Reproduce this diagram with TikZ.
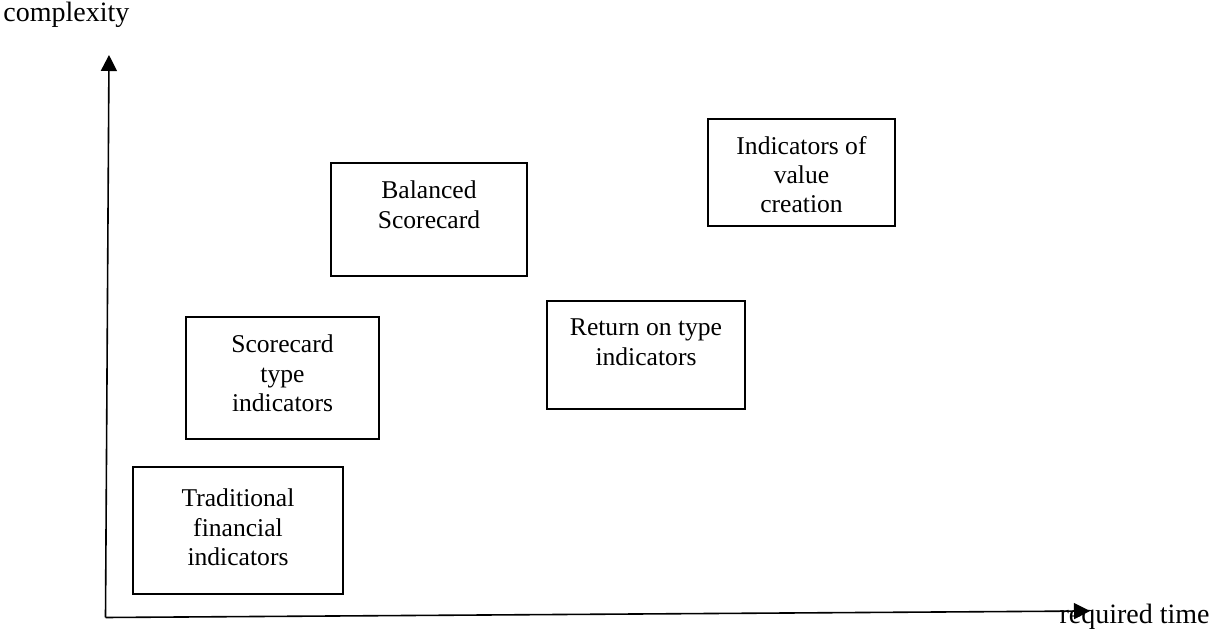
\documentclass[tikz,border=0pt]{standalone}
\usepackage{fontspec}
\setmainfont{Liberation Serif}
\usetikzlibrary{arrows.meta}
\begin{document}
\begin{tikzpicture}[x=0.5pt,y=-0.5pt,
  axis/.style={line width=0.8pt,-{Triangle[length=8pt,width=8pt]}},
  box/.style={draw,line width=1pt,inner sep=0pt,rectangle},
  boxtext/.style={anchor=north,align=center,inner sep=0pt,
    font=\fontsize{12.8}{14.8}\selectfont},
  axislabel/.style={inner sep=0pt,font=\fontsize{14}{16}\selectfont}]
\useasboundingbox (0,0) rectangle (1212,636);

% axes
\coordinate (O) at (105.5,617.5);
\coordinate (ytip) at (109,55);
\coordinate (xtip) at (1090,611);
\draw[axis] (O) -- (ytip);
\draw[axis] (O) -- (xtip);
\node[axislabel,anchor=base west] (ylab) at (3,22) {complexity};
\node[axislabel,anchor=base east] (xlab) at (1210,624) {required time};

% boxes
\node[box,minimum width=105pt,minimum height=63.5pt] (trad) at (238,530.5) {};
\node[box,minimum width=96.5pt,minimum height=61pt] (score) at (282.5,378) {};
\node[box,minimum width=98pt,minimum height=56.5pt] (bsc) at (429,219.5) {};
\node[box,minimum width=99pt,minimum height=54pt] (ret) at (646,355) {};
\node[box,minimum width=93.5pt,minimum height=53.5pt] (ivc) at (801.5,172.5) {};

% box labels
\node[boxtext,yshift=-11.25pt] (tradtxt) at (trad.north) {Traditional\\financial\\indicators};
\node[boxtext,yshift=-9.25pt] (scoretxt) at (score.north) {Scorecard\\type\\indicators};
\node[boxtext,yshift=-9.25pt] (bsctxt) at (bsc.north) {Balanced\\Scorecard};
\node[boxtext,yshift=-9.25pt] (rettxt) at (ret.north) {Return on type\\indicators};
% the last line of this label is cut off by its text frame
\begin{scope}
  \clip (ivc.north west) rectangle ([yshift=7pt]ivc.south east);
  \node[boxtext,yshift=-9.25pt,font=\fontsize{12.8}{14.3}\selectfont] (ivctxt) at (ivc.north) {Indicators of\\value\\creation};
\end{scope}
\end{tikzpicture}
\end{document}
